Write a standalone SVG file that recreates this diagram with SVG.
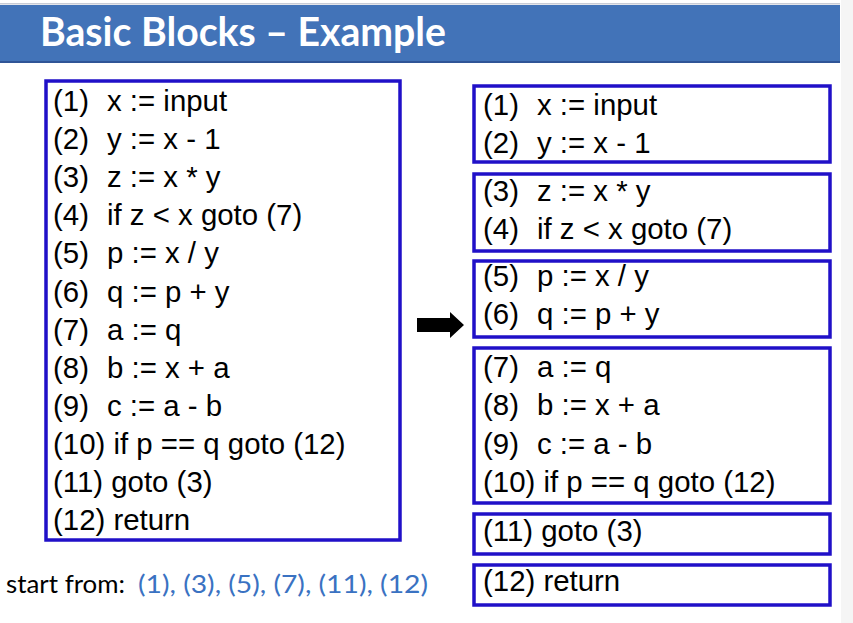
<svg xmlns="http://www.w3.org/2000/svg" width="853" height="623" viewBox="0 0 853 623">
<style>
.code{font-family:"Liberation Sans",Arial,sans-serif;font-size:29.4px;fill:#000}
.box{fill:none;stroke:#2010C8;stroke-width:3.5}
.title{font-family:"Lato","Open Sans",sans-serif;font-weight:bold;font-size:40px;fill:#fff}
.note{font-family:"Lato","Open Sans",sans-serif;font-size:25px}
</style>
<rect x="0" y="0" width="853" height="623" fill="#fff"/>
<rect x="841" y="0" width="12" height="623" fill="#f5f5f5"/>
<g id="header">
<rect x="0" y="3" width="840" height="1.5" fill="#c9ccd6"/>
<rect x="0" y="5" width="840" height="57" fill="#4273B8"/>
<rect x="0" y="61" width="840" height="2" fill="#2F5597"/>
<text class="title" x="40" y="45.5" textLength="406" lengthAdjust="spacingAndGlyphs">Basic Blocks – Example</text>
</g>
<g id="original">
<rect class="box" x="46" y="81" width="354" height="459"/>
<g class="code">
<text x="53" y="111">(1)<tspan x="107">x := input</tspan></text>
<text x="53" y="149.1">(2)<tspan x="107">y := x - 1</tspan></text>
<text x="53" y="187.2">(3)<tspan x="107">z := x * y</tspan></text>
<text x="53" y="225.3">(4)<tspan x="107">if z &lt; x goto (7)</tspan></text>
<text x="53" y="263.4">(5)<tspan x="107">p := x / y</tspan></text>
<text x="53" y="301.5">(6)<tspan x="107">q := p + y</tspan></text>
<text x="53" y="339.6">(7)<tspan x="107">a := q</tspan></text>
<text x="53" y="377.7">(8)<tspan x="107">b := x + a</tspan></text>
<text x="53" y="415.8">(9)<tspan x="107">c := a - b</tspan></text>
<text x="53" y="453.9">(10) if p == q goto (12)</text>
<text x="53" y="492">(11) goto (3)</text>
<text x="53" y="530.1">(12) return</text>
</g>
</g>
<g id="footer">
<text class="note" x="6" y="593" fill="#000" textLength="119" lengthAdjust="spacingAndGlyphs">start from:</text>
<text class="note" x="138" y="593" fill="#3A72C2" textLength="290" lengthAdjust="spacingAndGlyphs">(1), (3), (5), (7), (11), (12)</text>
</g>
<g id="connectors">
<polygon points="417,318 450,318 450,312 464,325 450,338 450,332 417,332" fill="#000"/>
</g>
<g id="block1">
<rect class="box" x="474" y="86" width="356" height="76"/>
<text class="code" x="483" y="115">(1)<tspan x="537">x := input</tspan></text>
<text class="code" x="483" y="153">(2)<tspan x="537">y := x - 1</tspan></text>
</g>
<g id="block2">
<rect class="box" x="474" y="174" width="356" height="77"/>
<text class="code" x="483" y="201">(3)<tspan x="537">z := x * y</tspan></text>
<text class="code" x="483" y="239">(4)<tspan x="537">if z &lt; x goto (7)</tspan></text>
</g>
<g id="block3">
<rect class="box" x="474" y="261" width="356" height="76"/>
<text class="code" x="483" y="286">(5)<tspan x="537">p := x / y</tspan></text>
<text class="code" x="483" y="324">(6)<tspan x="537">q := p + y</tspan></text>
</g>
<g id="block4">
<rect class="box" x="474" y="348" width="356" height="155"/>
<text class="code" x="483" y="377">(7)<tspan x="537">a := q</tspan></text>
<text class="code" x="483" y="415">(8)<tspan x="537">b := x + a</tspan></text>
<text class="code" x="483" y="453.5">(9)<tspan x="537">c := a - b</tspan></text>
<text class="code" x="483" y="492">(10) if p == q goto (12)</text>
</g>
<g id="block5">
<rect class="box" x="474" y="514" width="356" height="40"/>
<text class="code" x="483" y="541">(11) goto (3)</text>
</g>
<g id="block6">
<rect class="box" x="474" y="565" width="356" height="40"/>
<text class="code" x="483" y="591">(12) return</text>
</g>
</svg>
